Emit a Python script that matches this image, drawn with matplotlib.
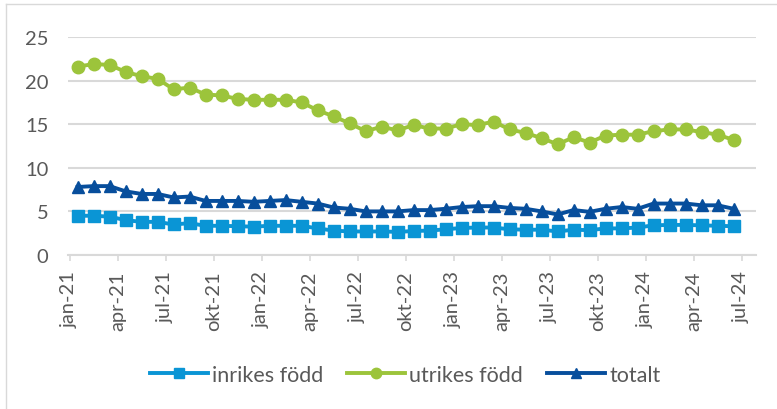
import matplotlib
matplotlib.use("Agg")
import matplotlib.pyplot as plt
from matplotlib.lines import Line2D

tick_labels = ["jan-21", "apr-21", "jul-21", "okt-21", "jan-22", "apr-22", "jul-22", "okt-22",
               "jan-23", "apr-23", "jul-23", "okt-23", "jan-24", "apr-24", "jul-24"]

inrikes = [4.5, 4.5, 4.4, 4.0, 3.8, 3.8, 3.5, 3.65, 3.35, 3.35, 3.3, 3.25, 3.35, 3.35,
           3.35, 3.05, 2.8, 2.7, 2.7, 2.7, 2.65, 2.75, 2.8, 2.95, 3.1, 3.15, 3.15, 2.95,
           2.9, 2.9, 2.7, 2.9, 2.85, 3.05, 3.05, 3.15, 3.4, 3.45, 3.45, 3.4, 3.35, 3.3]
utrikes = [21.6, 21.9, 21.8, 21.0, 20.5, 20.2, 19.0, 19.2, 18.4, 18.3, 17.9, 17.8, 17.8, 17.8,
           17.5, 16.6, 15.9, 15.1, 14.2, 14.7, 14.3, 14.9, 14.5, 14.5, 15.0, 14.9, 15.3, 14.4,
           14.0, 13.4, 12.7, 13.5, 12.9, 13.7, 13.8, 13.8, 14.2, 14.4, 14.4, 14.1, 13.8, 13.2]
totalt = [7.8, 7.9, 7.9, 7.3, 7.0, 7.0, 6.6, 6.7, 6.2, 6.2, 6.2, 6.1, 6.2, 6.3,
          6.1, 5.9, 5.45, 5.3, 5.0, 5.0, 5.0, 5.15, 5.15, 5.3, 5.5, 5.6, 5.6, 5.4,
          5.3, 5.0, 4.65, 5.15, 4.95, 5.3, 5.5, 5.3, 5.9, 5.9, 5.9, 5.7, 5.7, 5.3]

plt.rcParams['font.family'] = ['Lato', 'DejaVu Sans']

C_IN = '#0A95D5'
C_UT = '#9CC43B'
C_TOT = '#074E9C'
TXT = '#595959'

fig = plt.figure(figsize=(7.77, 4.10), dpi=100)
ax = fig.add_axes([68/777, (410-256)/410, (756-68)/777, 218/410])

x = list(range(len(utrikes)))
ax.plot(x, inrikes, color=C_IN, lw=2.8, marker='s', ms=8.5, label='inrikes född', clip_on=False, zorder=3)
ax.plot(x, utrikes, color=C_UT, lw=2.8, marker='o', ms=9, label='utrikes född', clip_on=False, zorder=3)
ax.plot(x, totalt, color=C_TOT, lw=2.8, marker='^', ms=8.5, label='totalt', clip_on=False, zorder=4)

ax.set_ylim(0, 25)
ax.set_yticks([0, 5, 10, 15, 20, 25])
ax.set_xlim(-0.6, 42.4)
ticks = [3*k - 0.5 for k in range(len(tick_labels))]
ax.set_xticks(ticks)
ax.set_xticklabels(tick_labels, rotation=90, fontsize=14.5, color=TXT)
ax.tick_params(axis='x', length=4, color='#D9D9D9', width=1.2, pad=7)
ax.tick_params(axis='y', length=0, pad=14, labelsize=14.5, labelcolor=TXT)

ax.grid(axis='y', color='#D9D9D9', lw=1.5)
ax.set_axisbelow(True)
for s in ['top', 'right', 'left']:
    ax.spines[s].set_visible(False)
ax.spines['bottom'].set_color('#D9D9D9')
ax.spines['bottom'].set_linewidth(1.5)

leg = fig.legend(loc='center', bbox_to_anchor=(405/777, 1 - 376/410), ncol=3, frameon=False,
                 fontsize=15.5, handlelength=2.7, columnspacing=1.1, handletextpad=0.2,
                 labelcolor=TXT)
for h in leg.legend_handles:
    h.set_markersize(7.5)

# chart border (left and top)
fig.add_artist(Line2D([6/777, 6/777], [0, 1 - 5/410], color='#D9D9D9', lw=1, transform=fig.transFigure))
fig.add_artist(Line2D([6/777, 1], [1 - 5/410, 1 - 5/410], color='#D9D9D9', lw=1, transform=fig.transFigure))

fig.savefig('out.png', dpi=100)
